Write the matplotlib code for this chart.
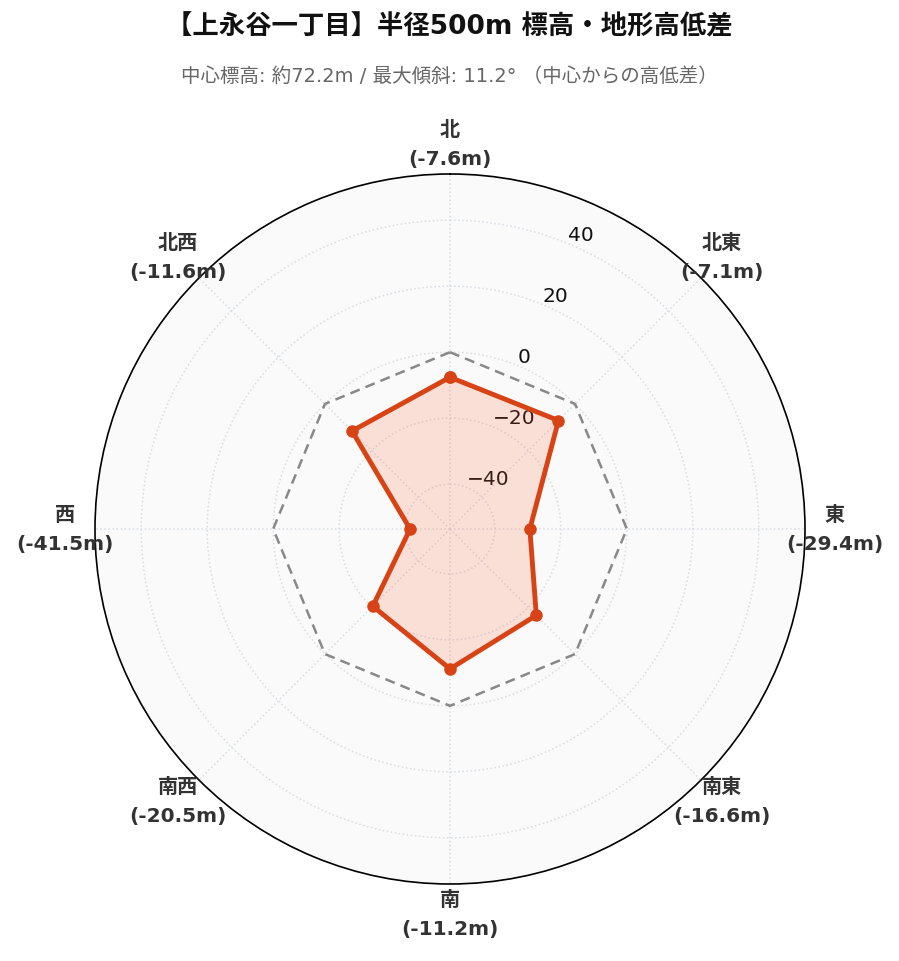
import numpy as np
import matplotlib
matplotlib.use("Agg")
import matplotlib.pyplot as plt

# Latin glyphs in DejaVu, Japanese falls back to Noto CJK
plt.rcParams['font.family'] = ['DejaVu Sans', 'Noto Sans CJK JP']

# -----------------------------
# Data
# -----------------------------
directions = ["北", "北東", "東", "南東", "南", "南西", "西", "北西"]
diffs = [-7.6, -7.1, -29.4, -16.6, -11.2, -20.5, -41.5, -11.6]
r_ticks = [-40, -20, 0, 20, 40]

TITLE = "【上永谷一丁目】半径500m 標高・地形高低差"
SUBTITLE = "中心標高: 約72.2m / 最大傾斜: 11.2° （中心からの高低差）"

LINE_COLOR = "#d84315"
FILL_COLOR = "#ff5a30"

fig = plt.figure(figsize=(8.99, 9.62), dpi=100)
ax = fig.add_axes([95 / 899, 77 / 962, 710 / 899, 710 / 962], projection="polar")

ax.set_theta_zero_location("N")
ax.set_theta_direction(-1)
ax.set_facecolor("#fafafa")

theta = np.deg2rad(np.arange(len(directions)) * 360 / len(directions))
theta_c = np.append(theta, theta[0])
vals_c = np.append(diffs, diffs[0])

# zero reference
ax.plot(theta_c, np.zeros_like(theta_c), ls="--", color="#888888", lw=1.8,
        dashes=(4, 2.5), zorder=3)

# terrain difference
ax.fill(theta_c, vals_c, color=FILL_COLOR, alpha=0.17, lw=0, zorder=2)
ax.plot(theta_c, vals_c, color=LINE_COLOR, lw=3.5, marker="o", ms=8, zorder=4)

ax.set_ylim(-53.6, 54)
ax.set_yticks(r_ticks)
ax.set_yticklabels([f"{t}".replace("-", "\u2212") for t in r_ticks],
                   fontsize=14.5, color="#111111")
ax.set_rlabel_position(22.5)

ax.set_xticks(theta)
ax.set_xticklabels([])
ax.grid(True, color="#d8dde2", ls=":", lw=1.1)
ax.spines["polar"].set_color("black")
ax.spines["polar"].set_linewidth(1.2)

# direction labels around the circle
for ang, name, v in zip(theta, directions, diffs):
    x = 0.5 + 0.542 * np.sin(ang)
    y = 0.5 + 0.542 * np.cos(ang)
    ax.text(x, y, f"{name}\n({v}m)", transform=ax.transAxes, ha="center", va="center",
            fontsize=14.5, fontweight="bold", color="#333333", linespacing=1.65,
            zorder=10, clip_on=False)

fig.text(0.5, 1 - 27 / 962, TITLE, ha="center", va="center",
         fontsize=19, fontweight="bold", color="#111111")
fig.text(0.5, 1 - 76 / 962, SUBTITLE, ha="center", va="center",
         fontsize=14, color="#666666")

fig.savefig("out.png", dpi=100)
